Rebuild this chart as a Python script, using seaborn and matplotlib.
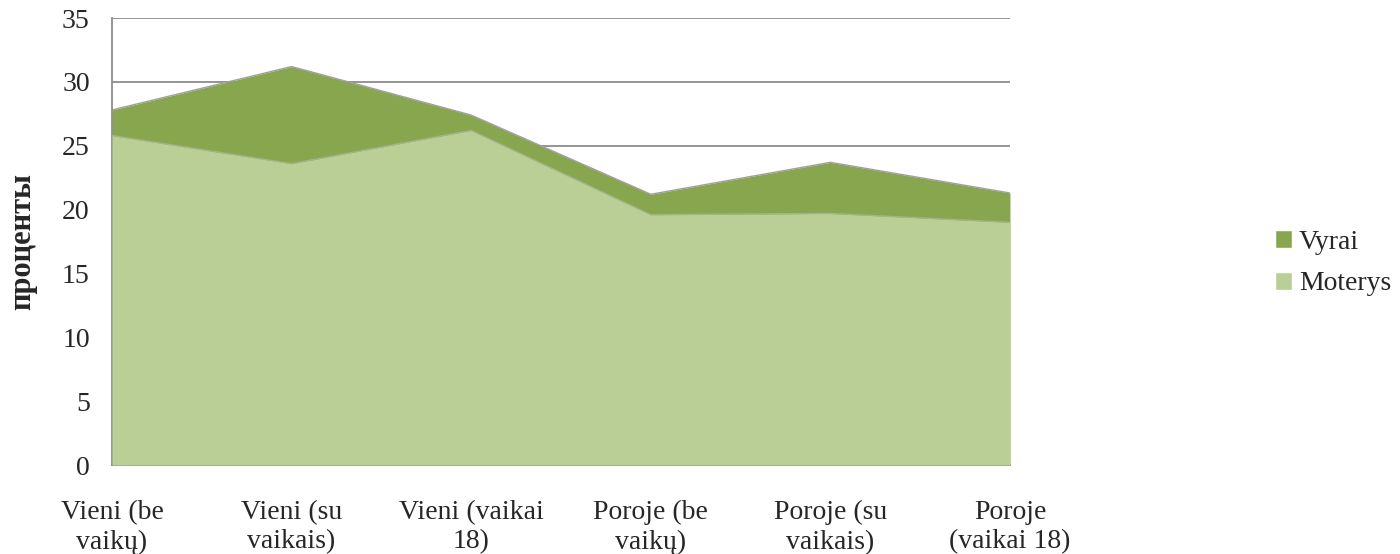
import numpy as np
import pandas as pd
import matplotlib.pyplot as plt
import seaborn as sns
from matplotlib.patches import Patch

# Data
categories = ['Vieni (be\nvaikų)', 'Vieni (su\nvaikais)', 'Vieni (vaikai\n18)',
              'Poroje (be\nvaikų)', 'Poroje (su\nvaikais)', 'Poroje\n(vaikai 18)']
vyrai = [27.8, 31.2, 27.4, 21.2, 23.7, 21.3]
moterys = [25.8, 23.6, 26.2, 19.6, 19.7, 19.0]
yticks = [0, 5, 10, 15, 20, 25, 30, 35]

vyrai_color = '#88a64e'
moterys_color = '#b9cf96'

df = pd.DataFrame({'pos': np.arange(len(categories)),
                   'Vyrai': vyrai, 'Moterys': moterys})

sns.set_style('white')
plt.rcParams['font.family'] = ['Liberation Serif', 'DejaVu Serif']

fig = plt.figure(figsize=(14, 5.54), dpi=100)
ax = fig.add_axes([0.08, 0.1606, 0.6414, 0.8069])

# gridlines behind the areas
for y in yticks[1:]:
    ax.axhline(y, color='#8c8c8c', lw=1.3, zorder=0)

ax.fill_between(df['pos'], 0, df['Vyrai'], color=vyrai_color, lw=0, zorder=2)
ax.fill_between(df['pos'], 0, df['Moterys'], color=moterys_color, lw=0, zorder=3)
sns.lineplot(data=df, x='pos', y='Vyrai', ax=ax, color='#a0a0a0', lw=1.0, zorder=2.5)
sns.lineplot(data=df, x='pos', y='Moterys', ax=ax, color='#a3b48a', lw=1.0, zorder=3.5)

ax.set_xlim(0, len(categories) - 1)
ax.set_ylim(0, 35)
ax.set_yticks(yticks)
ax.set_yticklabels([str(t) for t in yticks], fontsize=20)
ax.set_xticks(df['pos'])
ax.set_xticklabels(categories, fontsize=20, linespacing=1.25)
ax.tick_params(axis='y', length=0, pad=16)
ax.tick_params(axis='x', length=0, pad=25)
ax.set_xlabel('')
ax.set_ylabel('проценты', fontsize=22, fontweight='bold', labelpad=18)

for side in ['top', 'right']:
    ax.spines[side].set_visible(False)
for side in ['left', 'bottom']:
    ax.spines[side].set_color('#8c8c8c')
    ax.spines[side].set_linewidth(1.3)

handles = [Patch(facecolor=vyrai_color, label='Vyrai'),
           Patch(facecolor=moterys_color, label='Moterys')]
fig.legend(handles=handles, loc='center left', bbox_to_anchor=(0.911, 0.525),
           frameon=False, fontsize=20, handlelength=0.6, handleheight=0.6,
           handletextpad=0.25, labelspacing=0.6, borderpad=0, borderaxespad=0)

fig.savefig('out.png', dpi=100)
